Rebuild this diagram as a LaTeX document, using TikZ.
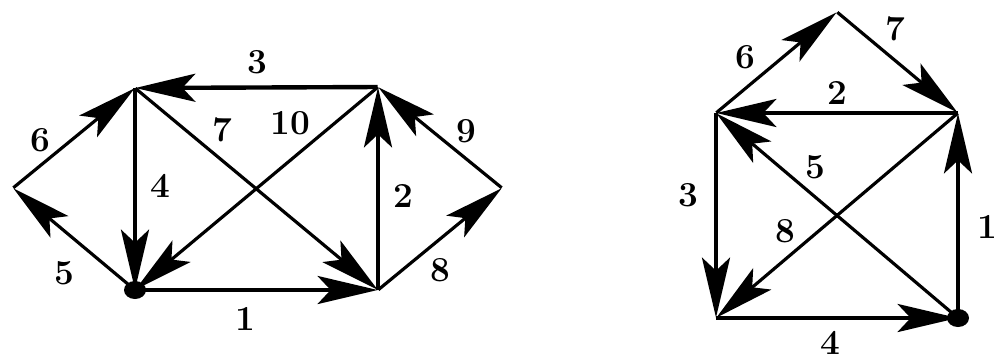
\documentclass[tikz,border=0pt]{standalone}
\usepackage{tikz}
\usetikzlibrary{arrows.meta}

\tikzset{
  vtx/.style={inner sep=0pt, minimum size=0pt},
  edge/.style={line width=2.5pt, -{Stealth[length=1.2cm, width=0.56cm, inset=0.26cm]}},
  diag/.style={edge, line width=1.8pt},
  lbl/.style={inner sep=0pt, font=\fontsize{20}{24}\selectfont\bfseries},
}

\begin{document}
\begin{tikzpicture}[x=0.02cm, y=-0.02cm]
    \useasboundingbox (0,0) rectangle (997,360);
    % left graph
    \node[vtx] (L) at (13,188) {};
    \node[vtx] (A) at (135,88) {};
    \node[vtx] (B) at (378,87) {};
    \node[vtx] (R) at (502,188) {};
    \node[vtx] (C) at (135,290) {};
    \node[vtx] (D) at (378,290) {};
    \draw[edge] (C) -- node[lbl, shift={(-11,29)}] {1} (D);
    \draw[edge] (D) -- node[lbl, shift={(25,7)}] {2} (B);
    \draw[edge] (B) -- node[lbl, shift={(1,-25)}] {3} (A);
    \draw[edge] (A) -- node[lbl, shift={(25,-3)}] {4} (C);
    \draw[diag] (C) -- node[lbl, shift={(-10,34)}] {5} (L);
    \draw[diag] (L) -- node[lbl, shift={(-34,2)}] {6} (A);
    \draw[diag] (A) -- node[lbl, pos=.36, shift={(0,-31)}] {7} (D);
    \draw[diag] (D) -- node[lbl, shift={(0,31)}] {8} (R);
    \draw[diag] (R) -- node[lbl, shift={(26,-6)}] {9} (B);
    \draw[diag] (B) -- node[lbl, pos=.36, shift={(0,-37)}] {10} (C);
    \fill (C) ellipse [x radius=11, y radius=9];
    % right graph
    \node[vtx] (T) at (837,12) {};
    \node[vtx] (P) at (716,113) {};
    \node[vtx] (Q) at (958,113) {};
    \node[vtx] (S) at (716,318) {};
    \node[vtx] (E) at (958,318) {};
    \draw[edge] (E) -- node[lbl, shift={(29,11)}] {1} (Q);
    \draw[edge] (Q) -- node[lbl, shift={(0,-20)}] {2} (P);
    \draw[edge] (P) -- node[lbl, shift={(-28,-20)}] {3} (S);
    \draw[edge] (S) -- node[lbl, shift={(-7,25)}] {4} (E);
    \draw[diag] (E) -- node[lbl, pos=.59, shift={(0,-30)}] {5} (P);
    \draw[diag] (P) -- node[lbl, shift={(-31,-5)}] {6} (T);
    \draw[diag] (T) -- node[lbl, shift={(-2,-34)}] {7} (Q);
    \draw[diag] (Q) -- node[lbl, pos=.715, shift={(0,-28)}] {8} (S);
    \fill (E) ellipse [x radius=11, y radius=9];
\end{tikzpicture}
\end{document}
